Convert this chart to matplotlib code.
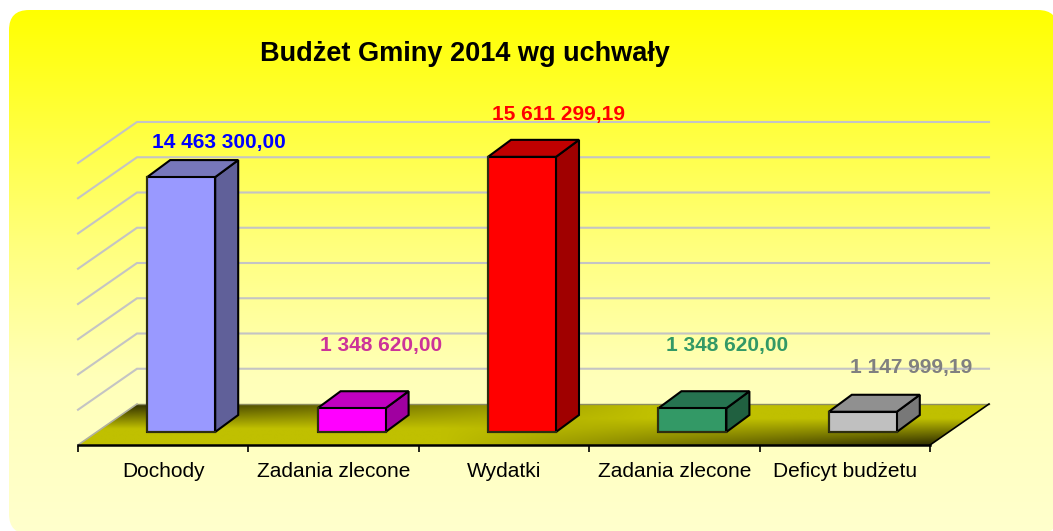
#!/usr/bin/env python
# -*- coding: utf-8 -*-

import matplotlib
matplotlib.use("Agg")
import matplotlib.pyplot as plt
from matplotlib.patches import FancyBboxPatch, Polygon
import numpy as np

plt.rcParams['font.family'] = ['Liberation Sans', 'DejaVu Sans']

title = "Budżet Gminy 2014 wg uchwały"
categories = ["Dochody", "Zadania zlecone", "Wydatki", "Zadania zlecone", "Deficyt budżetu"]
values = [14463300.00, 1348620.00, 15611299.19, 1348620.00, 1147999.19]
value_labels = ["14 463 300,00", "1 348 620,00", "15 611 299,19", "1 348 620,00", "1 147 999,19"]
grid_values = [0, 2e6, 4e6, 6e6, 8e6, 10e6, 12e6, 14e6, 16e6]

front_colors = ["#9999ff", "#ff00ff", "#ff0000", "#339966", "#c0c0c0"]
top_colors = ["#7777bb", "#c000c0", "#c00000", "#267350", "#909090"]
side_colors = ["#606099", "#a000a0", "#a00000", "#206040", "#787878"]
label_colors = ["#0000ff", "#cc3399", "#ff0000", "#339966", "#808080"]

# label offset from top of bar front, in pixels
label_dx = [38, 29, 37, 35, 48]
label_dy = [35, 63, 42, 63, 44]

W, H = 1053, 531
LEFT, RIGHT, BASE = 78, 930, 445
PX_PER_VALUE = 282 / 16e6
DEPTH_X, DEPTH_Y = 59, 41

fig = plt.figure(figsize=(W / 100, H / 100), dpi=100, facecolor="white")

# background panel
bg = fig.add_axes([0, 0, 1, 1])
bg.set_xlim(0, W)
bg.set_ylim(H, 0)
bg.axis("off")
stops_y = [0.0, 0.45, 0.7, 1.0]
stops_b = [0, 125, 185, 205]
grad = np.interp(np.linspace(0, 1, 256), stops_y, stops_b)
img = np.ones((256, 1, 3))
img[:, 0, 2] = grad / 255
p_left, p_top, p_right, p_bottom, p_round = 9, 10, 1058, 534, 20
im = bg.imshow(img, extent=(p_left, p_right, p_bottom, p_top), aspect="auto", interpolation="bilinear")
panel = FancyBboxPatch((p_left + p_round, p_top + p_round),
                       p_right - p_left - 2 * p_round, p_bottom - p_top - 2 * p_round,
                       boxstyle="round,pad=%d,rounding_size=%d" % (p_round, p_round),
                       transform=bg.transData, facecolor="none", edgecolor="none")
bg.add_patch(panel)
im.set_clip_path(panel)
bg.set_xlim(0, W)
bg.set_ylim(H, 0)

ax = fig.add_axes([LEFT / W, 1 - BASE / H, (RIGHT - LEFT) / W, 282 / H])
ax.patch.set_visible(False)
ax.set_xlim(0, len(categories))
ax.set_ylim(0, 16e6)

# one pixel in data units
ux = len(categories) / (RIGHT - LEFT)
uy = 1 / PX_PER_VALUE
back_x = DEPTH_X * ux
back_y = DEPTH_Y * uy

# back wall grid
for v in grid_values[1:]:
    ax.plot([0, back_x, len(categories) + back_x], [v, v + back_y, v + back_y],
            color="#c4c4c4", lw=1.5, clip_on=False, zorder=1, solid_joinstyle="miter")

# floor
floor_pts = [(0, 0), (back_x, back_y), (len(categories) + back_x, back_y), (len(categories), 0)]
u, t = np.meshgrid(np.linspace(0, 1, 300), np.linspace(0, 1, 60))
left_w = np.clip(1 - u * 1.6, 0, 1)
right_w = np.clip((u - 0.4) / 0.6, 0, 1)
dark = np.clip(1 - t / 0.6, 0, 1) * left_w + np.clip((t - 0.35) / 0.65, 0, 1) * right_w
dark = np.clip(dark, 0, 1) * 0.88
floor_img = np.zeros((60, 300, 3))
floor_img[..., 0] = (192 * (1 - dark) + 10 * dark) / 255
floor_img[..., 1] = (192 * (1 - dark) + 8 * dark) / 255
floor_img[..., 2] = 0
fl = ax.imshow(floor_img, extent=(0, len(categories) + back_x, 0, back_y), origin="upper",
               aspect="auto", zorder=2, interpolation="bilinear")
floor_clip = Polygon(floor_pts, closed=True, transform=ax.transData, facecolor="none", edgecolor="none")
ax.add_patch(floor_clip)
floor_clip.set_clip_on(False)
fl.set_clip_path(floor_clip)
fl.set_clip_box(fig.bbox)
ax.plot([back_x, len(categories) + back_x], [back_y, back_y], color="#8c8c60", lw=1, zorder=2.5, clip_on=False)
ax.plot([len(categories), len(categories) + back_x], [0, back_y], color="black", lw=1.2, zorder=2.5, clip_on=False)
ax.plot([0, back_x], [0, back_y], color="#b0b0a0", lw=1.2, zorder=2.5, clip_on=False)
ax.set_xlim(0, len(categories))
ax.set_ylim(0, 16e6)

# bars
bar_w = 68 * ux
bar_front = 18 * ux
bar_base = 13 * uy
bar_dx = 23 * ux
bar_dy = 17 * uy
positions = np.arange(len(categories)) + 0.5 + bar_front
for i, (x, v) in enumerate(zip(positions, values)):
    x0 = x - bar_w / 2
    x1 = x + bar_w / 2
    y0 = bar_base
    y1 = bar_base + v
    ax.fill([x1, x1 + bar_dx, x1 + bar_dx, x1], [y0, y0 + bar_dy, y1 + bar_dy, y1],
            facecolor=side_colors[i], edgecolor="black", lw=1.5, zorder=3, clip_on=False)
    ax.fill([x0, x1, x1 + bar_dx, x0 + bar_dx], [y1, y1, y1 + bar_dy, y1 + bar_dy],
            facecolor=top_colors[i], edgecolor="black", lw=1.5, zorder=3, clip_on=False)
    ax.bar(x, v, width=bar_w, bottom=bar_base, color=front_colors[i], edgecolor="black",
           linewidth=1.5, zorder=4, clip_on=False)
    # bottom and left edge are softer than the others
    ax.plot([x0, x0, x1], [y1, y0, y0], color="#2e2e10", lw=1.5, zorder=4.5, clip_on=False)
    ax.annotate(value_labels[i], (x, y1), xytext=(label_dx[i] * 0.72, label_dy[i] * 0.72),
                textcoords="offset points", ha="center", va="center", fontsize=15,
                fontweight="bold", color=label_colors[i], zorder=5, annotation_clip=False)

# axes
for name in ["left", "right", "top"]:
    ax.spines[name].set_visible(False)
ax.spines["bottom"].set_linewidth(1.8)
ax.spines["bottom"].set_zorder(5)
ax.set_yticks([])
ax.set_xticks(np.arange(len(categories) + 1))
ax.set_xticklabels([])
ax.tick_params(axis="x", which="major", length=5, width=1.2, color="black")
ax.set_xticks(np.arange(len(categories)) + 0.5, minor=True)
ax.set_xticklabels(categories, minor=True, fontsize=15, color="black")
ax.tick_params(axis="x", which="minor", length=0, pad=12)

bg.text(465, 54, title, ha="center", va="center", fontsize=19.5, fontweight="bold", color="black")

fig.savefig("out.png", dpi=100)
